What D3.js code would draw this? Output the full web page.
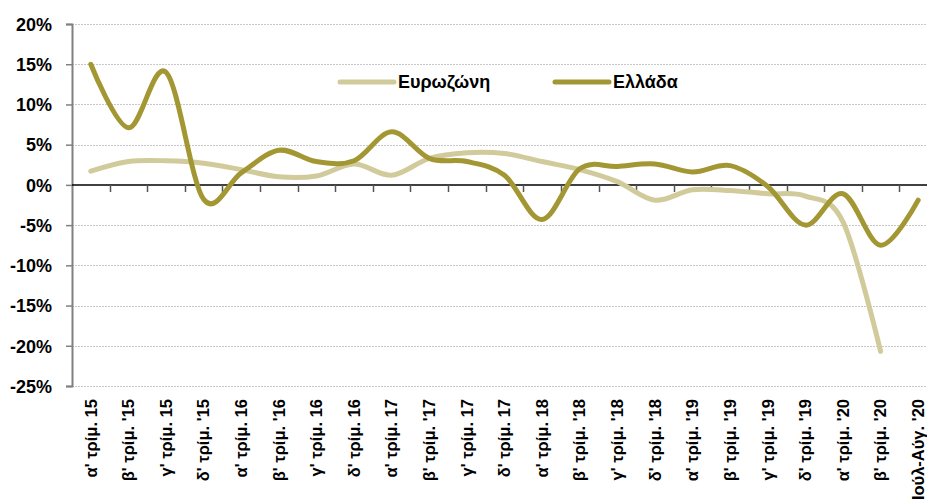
<!DOCTYPE html>
<html>
<head>
<meta charset="utf-8">
<script src="https://cdn.jsdelivr.net/npm/d3@7"></script>
<style>
  html, body { margin: 0; padding: 0; background: #fff; }
  svg { display: block; }
  text { font-family: "Liberation Sans", Arial, sans-serif; font-weight: bold; fill: #000; }
</style>
</head>
<body>
<svg id="chart" width="927" height="504"></svg>
<script>
// Quarterly categories (last one is the July–August 2020 period)
const categories = [
  "α' τρίμ. 15", "β' τρίμ. '15", "γ' τρίμ. 15", "δ' τρίμ. '15",
  "α' τρίμ. 16", "β' τρίμ. '16", "γ' τρίμ. 16", "δ' τρίμ. 16",
  "α' τρίμ. 17", "β' τρίμ. '17", "γ' τρίμ. 17", "δ' τρίμ. 17",
  "α' τρίμ. 18", "β' τρίμ. '18", "γ' τρίμ. '18", "δ' τρίμ. '18",
  "α' τρίμ. '19", "β' τρίμ. '19", "γ' τρίμ. '19", "δ' τρίμ. '19",
  "α' τρίμ. '20", "β' τρίμ. '20", "Ιούλ-Αύγ. '20"
];

// Annual change (%)
const eurozone = [1.7, 2.9, 3.0, 2.7, 1.9, 1.0, 1.1, 2.6, 1.2, 3.3, 4.0, 3.9,
                  2.9, 1.9, 0.4, -1.9, -0.6, -0.7, -1.1, -1.4, -4.6, -20.7];
const greece   = [15.0, 7.1, 14.0, -1.8, 1.5, 4.3, 2.9, 3.0, 6.6, 3.3, 2.9, 1.2,
                  -4.3, 2.0, 2.3, 2.6, 1.6, 2.4, -0.2, -5.0, -1.1, -7.5, -1.9];

const yTicks = [20, 15, 10, 5, 0, -5, -10, -15, -20, -25];

const seriesNames = ["Ευρωζώνη", "Ελλάδα"];
const seriesColors = ["#d1cb9b", "#a39734"];

const svg = d3.select("#chart");
const plotLeft = 72, plotRight = 937, plotTop = 24, plotBottom = 386;

const x = d3.scaleBand().domain(categories).range([plotLeft, plotRight]).paddingInner(0).paddingOuter(0);
const y = d3.scaleLinear().domain([-25, 20]).range([plotBottom, plotTop]);
const cx = c => x(c) + x.bandwidth() / 2;

// Horizontal gridlines
svg.append("g").selectAll("line")
  .data(yTicks.filter(t => t !== 0))
  .join("line")
  .attr("x1", plotLeft).attr("x2", 927)
  .attr("y1", d => Math.round(y(d)) + 0.5).attr("y2", d => Math.round(y(d)) + 0.5)
  .attr("stroke", "#c8c8c8").attr("stroke-width", 1).attr("stroke-dasharray", "2,1");

// Y axis
const yAxis = d3.axisLeft(y).tickValues(yTicks).tickSize(6).tickPadding(14)
  .tickFormat(d => d + "%");
const gy = svg.append("g").attr("transform", `translate(${plotLeft},0)`).call(yAxis);
gy.select(".domain").attr("stroke", "#808080").attr("stroke-width", 2);
gy.selectAll(".tick line").attr("stroke", "#808080").attr("stroke-width", 1.5);
gy.selectAll(".tick text").attr("font-size", 18).attr("font-family", null).attr("dy", "0.35em");

// Zero line with category separators
const gx = svg.append("g").attr("transform", `translate(0,${Math.round(y(0))})`);
gx.append("line").attr("x1", plotLeft).attr("x2", 927).attr("y1", 0).attr("y2", 0)
  .attr("stroke", "#000").attr("stroke-width", 1.5);
gx.selectAll("line.sep")
  .data(categories.slice(1))
  .join("line").attr("class", "sep")
  .attr("x1", d => Math.round(x(d)) + 0.5).attr("x2", d => Math.round(x(d)) + 0.5)
  .attr("y1", 0).attr("y2", 7)
  .attr("stroke", "#555").attr("stroke-width", 1.5);

// Category labels along the bottom, rotated
svg.append("g").selectAll("text")
  .data(categories)
  .join("text")
  .attr("transform", d => `translate(${cx(d)},${plotBottom + 13}) rotate(-90)`)
  .attr("text-anchor", "end")
  .attr("dy", "0.35em")
  .attr("font-size", 16.5)
  .text(d => d);

// Smoothed series lines
const line = d3.line()
  .x(d => cx(d.c))
  .y(d => y(d.v))
  .curve(d3.curveCardinal.tension(0));

[eurozone, greece].forEach((vals, i) => {
  const pts = vals.map((v, j) => ({ c: categories[j], v }));
  svg.append("path")
    .attr("d", line(pts))
    .attr("fill", "none")
    .attr("stroke", seriesColors[i])
    .attr("stroke-width", 5)
    .attr("stroke-linecap", "round")
    .attr("stroke-linejoin", "round");
});

// Legend
const legendX = [340, 555];
const leg = svg.append("g");
seriesNames.forEach((name, i) => {
  leg.append("line")
    .attr("x1", legendX[i]).attr("x2", legendX[i] + 54)
    .attr("y1", 82).attr("y2", 82)
    .attr("stroke", seriesColors[i]).attr("stroke-width", 5).attr("stroke-linecap", "round");
  leg.append("text")
    .attr("x", legendX[i] + 58).attr("y", 82).attr("dy", "0.35em")
    .attr("font-size", 18)
    .text(name);
});
</script>
</body>
</html>
